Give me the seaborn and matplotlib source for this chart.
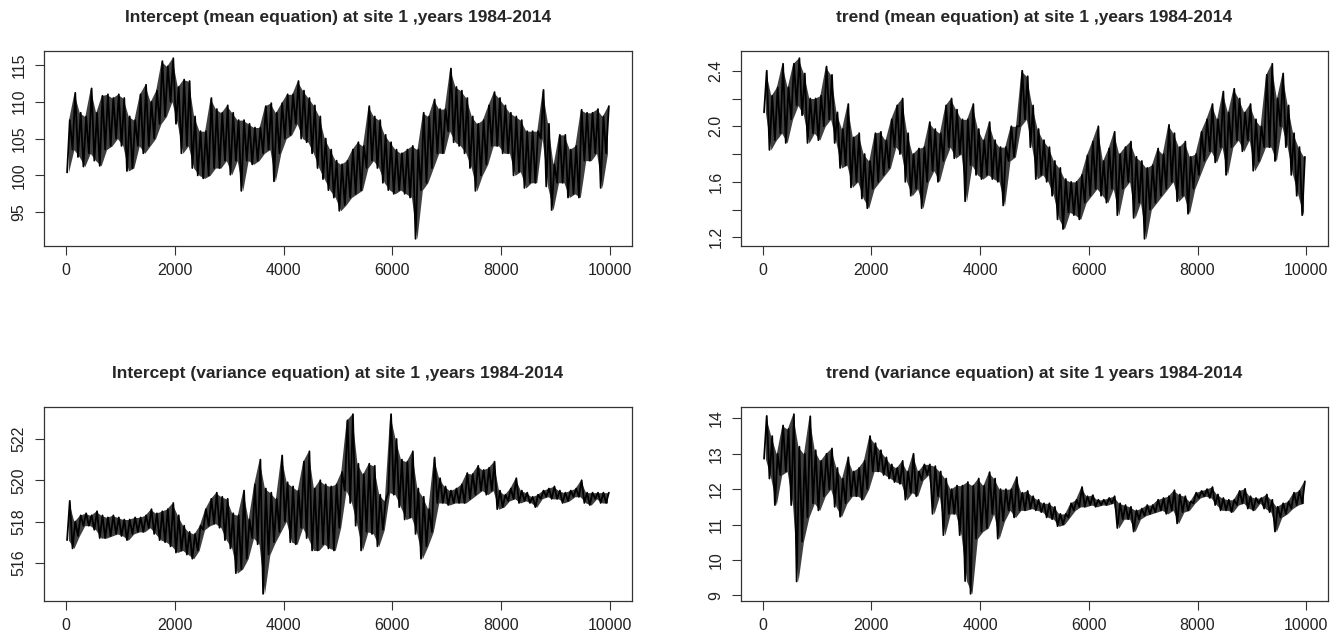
import numpy as np
import pandas as pd
import matplotlib
matplotlib.use("Agg")
import matplotlib.pyplot as plt
import seaborn as sns

# iteration bins (start of each 100-iteration block)
iter_start = list(range(0, 10000, 100))

titles = [
    "Intercept (mean equation) at site 1 ,years 1984-2014",
    "trend (mean equation) at site 1 ,years 1984-2014",
    "Intercept (variance equation) at site 1 ,years 1984-2014",
    "trend (variance equation) at site 1 years 1984-2014",
]

# ---- Intercept (mean equation): low / high values per 100-iteration block
int_mean_lo = [100.4, 103.5, 102.5, 101.2, 103.0, 102.0, 101.3, 103.5, 104.0, 105.0,
               104.0, 100.6, 101.0, 104.0, 103.0, 104.0, 105.0, 107.0, 108.0, 110.0,
               107.0, 103.0, 104.0, 101.0, 100.0, 99.6, 100.0, 101.0, 101.0, 102.0,
               100.1, 102.0, 97.9, 102.0, 101.5, 102.0, 103.0, 103.5, 99.2, 103.0,
               105.0, 105.5, 107.0, 105.0, 104.5, 103.0, 101.0, 99.5, 98.0, 97.0,
               95.2, 96.0, 97.0, 97.5, 98.0, 101.0, 102.0, 101.0, 99.0, 98.0,
               97.5, 98.0, 97.5, 97.0, 91.4, 98.0, 99.0, 101.0, 103.0, 103.0,
               106.0, 104.5, 104.0, 103.0, 101.0, 97.9, 100.0, 101.5, 104.0, 104.0,
               103.0, 103.0, 100.0, 100.5, 98.3, 99.0, 99.0, 105.0, 98.5, 95.3,
               99.0, 99.0, 97.0, 97.5, 97.0, 102.0, 102.0, 103.0, 98.3, 103.0]
int_mean_hi = [107.5, 111.2, 108.5, 108.0, 111.8, 108.5, 110.8, 111.0, 110.5, 111.0,
               110.5, 108.0, 107.5, 111.0, 112.3, 110.0, 111.5, 115.5, 114.8, 115.9,
               112.0, 113.0, 112.8, 108.0, 106.0, 106.0, 110.5, 109.0, 108.5, 109.5,
               108.5, 107.5, 107.5, 107.0, 106.5, 106.5, 109.4, 109.8, 108.5, 109.8,
               111.0, 111.0, 112.8, 111.5, 110.5, 109.5, 108.0, 105.0, 103.5, 102.0,
               101.5, 102.0, 103.5, 104.5, 104.0, 109.4, 108.0, 107.5, 105.5, 104.5,
               103.5, 103.0, 103.5, 104.0, 103.5, 108.5, 108.0, 110.3, 109.0, 109.0,
               114.5, 112.0, 111.5, 110.5, 108.0, 107.0, 107.5, 109.5, 111.3, 110.5,
               109.5, 108.5, 108.0, 107.5, 106.0, 106.0, 106.0, 111.6, 107.0, 101.5,
               105.5, 105.5, 103.5, 104.0, 108.9, 108.5, 108.5, 109.0, 108.0, 109.4]

# ---- trend (mean equation)
trend_mean_lo = [2.10, 1.83, 1.90, 1.95, 1.88, 2.05, 2.15, 2.08, 1.88, 1.95,
                 1.90, 2.00, 2.05, 1.88, 1.70, 1.72, 1.56, 1.60, 1.48, 1.41,
                 1.55, 1.60, 1.65, 1.70, 1.85, 1.80, 1.60, 1.50, 1.55, 1.41,
                 1.60, 1.68, 1.60, 1.75, 1.85, 1.77, 1.80, 1.46, 1.72, 1.65,
                 1.62, 1.65, 1.62, 1.60, 1.43, 1.75, 1.78, 2.00, 2.05, 1.85,
                 1.62, 1.65, 1.60, 1.50, 1.33, 1.26, 1.38, 1.36, 1.33, 1.45,
                 1.50, 1.55, 1.50, 1.45, 1.55, 1.36, 1.55, 1.60, 1.34, 1.45,
                 1.19, 1.40, 1.45, 1.50, 1.55, 1.60, 1.46, 1.50, 1.37, 1.55,
                 1.65, 1.75, 1.82, 1.74, 1.85, 1.65, 1.85, 1.90, 1.82, 1.90,
                 1.68, 1.75, 1.85, 1.85, 1.75, 2.00, 1.85, 1.65, 1.50, 1.36]
trend_mean_hi = [2.40, 2.22, 2.28, 2.45, 2.28, 2.45, 2.49, 2.38, 2.20, 2.20,
                 2.22, 2.43, 2.37, 2.10, 1.98, 2.16, 1.92, 1.95, 1.80, 1.75,
                 1.95, 1.96, 1.90, 2.05, 2.15, 2.20, 1.95, 1.80, 1.84, 1.85,
                 2.03, 1.98, 1.95, 2.15, 2.20, 2.12, 2.05, 2.05, 2.16, 1.98,
                 1.90, 2.03, 1.90, 1.85, 1.85, 2.00, 2.00, 2.40, 2.36, 2.15,
                 1.98, 1.90, 1.85, 1.75, 1.70, 1.62, 1.60, 1.60, 1.65, 1.79,
                 1.89, 2.00, 1.75, 1.84, 1.96, 1.80, 1.85, 1.89, 1.78, 1.75,
                 1.70, 1.72, 1.84, 1.80, 2.01, 1.95, 1.85, 1.89, 1.78, 1.80,
                 1.96, 2.05, 2.16, 2.05, 2.25, 2.10, 2.27, 2.20, 2.10, 2.16,
                 2.05, 2.00, 2.37, 2.45, 2.20, 2.38, 2.15, 1.95, 1.85, 1.78]

# ---- Intercept (variance equation)
int_var_lo = [517.1, 516.7, 517.3, 517.8, 517.8, 517.6, 517.2, 517.2, 517.3, 517.4,
              517.3, 517.1, 517.4, 517.5, 517.5, 517.7, 517.4, 517.1, 517.0, 516.8,
              516.5, 516.6, 516.4, 516.2, 516.6, 517.6, 517.8, 517.9, 517.7, 517.1,
              516.7, 515.5, 515.7, 516.2, 517.2, 516.9, 514.5, 516.4, 517.0, 517.5,
              518.0, 517.0, 516.9, 517.7, 517.2, 516.6, 516.6, 516.9, 516.7, 516.6,
              517.7, 519.5, 518.9, 517.8, 516.6, 517.5, 517.4, 516.8, 517.6, 519.4,
              519.3, 518.7, 518.1, 518.2, 517.4, 516.2, 516.8, 517.5, 518.9, 518.9,
              518.8, 518.9, 518.9, 518.9, 519.1, 519.3, 519.5, 519.3, 519.5, 518.6,
              518.7, 519.0, 519.1, 518.9, 519.0, 518.9, 518.7, 519.1, 519.2, 519.1,
              519.1, 518.9, 519.0, 519.2, 519.2, 518.9, 518.8, 519.1, 518.9, 518.9]
int_var_hi = [519.0, 518.0, 518.3, 518.4, 518.3, 518.5, 518.3, 518.2, 518.3, 518.2,
              518.1, 518.1, 518.2, 518.2, 518.3, 518.6, 518.4, 518.5, 518.6, 518.9,
              518.3, 517.8, 517.5, 517.4, 517.8, 518.6, 519.1, 519.4, 519.2, 519.1,
              518.4, 518.3, 519.5, 518.1, 519.8, 521.0, 519.6, 519.4, 519.1, 521.2,
              519.9, 519.7, 519.5, 520.9, 521.4, 519.6, 520.0, 519.8, 519.7, 519.8,
              520.4, 522.9, 523.2, 520.8, 520.3, 520.8, 520.7, 519.3, 519.0, 523.2,
              522.0, 521.0, 520.9, 521.4, 519.6, 519.2, 518.6, 521.1, 520.1, 519.7,
              519.5, 519.6, 519.8, 520.35, 520.3, 520.7, 520.5, 520.6, 520.9, 519.5,
              519.3, 519.6, 520.1, 519.5, 519.4, 519.2, 519.3, 519.5, 519.6, 519.7,
              519.5, 519.4, 519.5, 519.6, 520.0, 519.4, 519.4, 519.4, 519.4, 519.4]

# ---- trend (variance equation)
trend_var_lo = [12.86, 12.30, 11.55, 12.40, 12.50, 11.55, 9.39, 10.52, 11.20, 11.60,
                11.40, 11.80, 12.00, 11.50, 11.22, 11.60, 11.80, 11.80, 11.70, 12.00,
                12.50, 12.50, 12.40, 12.30, 12.20, 12.15, 11.70, 11.90, 11.80, 12.25,
                12.40, 11.30, 11.80, 10.70, 11.30, 11.30, 10.70, 9.40, 9.04, 10.60,
                10.80, 10.90, 11.30, 10.60, 11.10, 11.40, 11.20, 11.40, 11.40, 11.45,
                11.40, 11.35, 11.20, 11.15, 10.95, 11.00, 11.20, 11.40, 11.50, 11.50,
                11.55, 11.50, 11.55, 11.55, 11.60, 10.90, 11.15, 11.15, 10.80, 11.15,
                11.25, 11.30, 11.35, 11.40, 11.30, 11.40, 11.03, 11.35, 11.40, 11.60,
                11.75, 11.80, 11.75, 11.55, 11.40, 11.40, 11.35, 11.55, 11.60, 11.45,
                11.40, 11.60, 11.45, 11.35, 10.80, 11.20, 11.30, 11.45, 11.55, 11.60]
trend_var_hi = [14.07, 13.50, 13.00, 13.80, 13.70, 14.12, 13.20, 13.00, 14.06, 13.10,
                12.80, 13.00, 13.15, 12.60, 12.30, 12.90, 12.50, 12.60, 12.80, 13.50,
                13.30, 13.10, 12.90, 12.70, 12.60, 12.80, 12.50, 13.00, 12.50, 12.70,
                12.70, 12.65, 12.50, 12.30, 12.00, 12.10, 12.10, 12.20, 12.10, 12.30,
                12.10, 12.48, 12.30, 12.00, 12.00, 12.00, 12.34, 11.90, 11.95, 11.80,
                11.70, 11.60, 11.60, 11.50, 11.30, 11.30, 11.60, 11.70, 12.06, 11.80,
                11.83, 11.70, 11.70, 11.75, 11.80, 11.60, 11.55, 11.50, 11.40, 11.45,
                11.55, 11.55, 11.70, 11.75, 11.80, 11.97, 11.85, 11.80, 11.65, 11.90,
                11.95, 12.00, 12.06, 11.85, 11.75, 11.70, 11.70, 11.95, 12.01, 11.80,
                11.75, 11.75, 11.85, 11.70, 11.50, 11.60, 11.65, 11.90, 11.95, 12.22]

x_ticks = [0, 2000, 4000, 6000, 8000, 10000]
y_ticks = [
    [95, 100, 105, 110, 115],
    [1.2, 1.4, 1.6, 1.8, 2.0, 2.2, 2.4],
    [516, 518, 520, 522],
    [9, 10, 11, 12, 13, 14],
]
y_ticklabels = [
    ["95", "100", "105", "110", "115"],
    ["1.2", "", "1.6", "", "2.0", "", "2.4"],
    ["516", "518", "520", "522"],
    ["9", "10", "11", "12", "13", "14"],
]
series = [(int_mean_lo, int_mean_hi), (trend_mean_lo, trend_mean_hi),
          (int_var_lo, int_var_hi), (trend_var_lo, trend_var_hi)]


def trace_frame(lo, hi):
    xs, ys = [], []
    for s, a, b in zip(iter_start, lo, hi):
        xs += [s + 25, s + 75]
        ys += [a, b]
    return pd.DataFrame({"iteration": xs, "value": ys})


sns.set_theme(style="ticks")
plt.rcParams["font.family"] = ["Liberation Sans", "DejaVu Sans"]

fig = plt.figure(figsize=(13.4, 6.4), dpi=100)
W, H = 1340, 640
boxes = [(44, 51, 632, 246), (741, 51, 1328, 246),
         (44, 407, 632, 601), (741, 407, 1328, 601)]

for i, (l, t, r, b) in enumerate(boxes):
    ax = fig.add_axes([l / W, 1 - b / H, (r - l) / W, (b - t) / H])
    lo, hi = series[i]
    centers = [s + 50 for s in iter_start]
    # block envelope (min..max of each 100-iteration block)
    ax.fill_between(centers, lo, hi, color="#404040", lw=0)
    df = trace_frame(lo, hi)
    sns.lineplot(data=df, x="iteration", y="value", ax=ax, color="black",
                 lw=1.3, estimator=None, sort=False)
    ymin, ymax = min(lo), max(hi)
    pad = 0.04 * (ymax - ymin)
    ax.set_ylim(ymin - pad, ymax + pad)
    ax.set_xlim(1 - 0.04 * 9999, 10000 + 0.04 * 9999)
    ax.set_xticks(x_ticks)
    ax.set_xticklabels([str(v) for v in x_ticks])
    ax.set_yticks(y_ticks[i])
    ax.set_yticklabels(y_ticklabels[i])
    for lab in ax.get_yticklabels():
        lab.set_rotation(90)
        lab.set_va("center")
    ax.set_xlabel("")
    ax.set_ylabel("")
    ax.tick_params(axis="both", length=6.5, width=0.8, color="#333333",
                   labelsize=11.5, labelcolor="#222222", pad=6)
    for sp in ax.spines.values():
        sp.set_color("#333333")
        sp.set_linewidth(0.9)
    ax.set_title(titles[i], fontsize=12.5, fontweight="bold", pad=21)

fig.savefig("out.png", dpi=100, facecolor="white")
